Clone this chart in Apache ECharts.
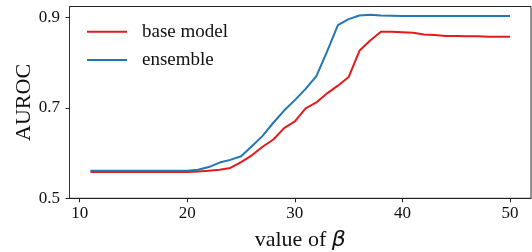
<!DOCTYPE html>
<html>
<head>
<meta charset="utf-8">
<script src="https://cdn.jsdelivr.net/npm/echarts@6/dist/echarts.min.js"></script>
<style>html,body{margin:0;padding:0;background:#fff;}#c{width:532px;height:252px;}</style>
</head>
<body>
<div id="c"></div>
<script>
const beta = [11,12,13,14,15,16,17,18,19,20,21,22,23,24,25,26,27,28,29,30,31,32,33,34,35,36,37,38,39,40,41,42,43,44,45,46,47,48,49,50];
const baseModel = [0.558,0.558,0.558,0.558,0.558,0.558,0.558,0.558,0.558,0.558,0.559,0.561,0.563,0.567,0.580,0.595,0.614,0.630,0.655,0.670,0.699,0.712,0.732,0.749,0.768,0.826,0.849,0.868,0.868,0.867,0.866,0.862,0.861,0.859,0.859,0.858,0.858,0.857,0.857,0.857];
const ensemble = [0.561,0.561,0.561,0.561,0.561,0.561,0.561,0.561,0.561,0.561,0.563,0.569,0.579,0.585,0.593,0.615,0.638,0.667,0.694,0.717,0.742,0.770,0.825,0.883,0.896,0.904,0.906,0.904,0.9035,0.903,0.903,0.903,0.903,0.903,0.903,0.903,0.903,0.903,0.903,0.903];
const xTicks = [10,20,30,40,50];
const yTicks = [0.5,0.7,0.9];
const seriesNames = ['base model','ensemble'];

const serif = 'Liberation Serif';
const chart = echarts.init(document.getElementById('c'), null, {renderer:'canvas'});
chart.setOption({
  animation: false,
  grid: {left: 69.5, right: 1, top: 6.5, bottom: 53.7, show: true, borderColor: '#222', borderWidth: 1, backgroundColor: 'transparent', outerBoundsMode: 'none'},
  legend: {
    data: seriesNames, orient: 'vertical', left: 87, top: 20.7, padding: 0,
    icon: 'rect', itemWidth: 40, itemHeight: 2, itemGap: 6.3,
    textStyle: {fontFamily: serif, fontSize: 19, color: '#111', lineHeight: 22, padding: [0,0,0,10]}
  },
  xAxis: {
    type: 'value', min: 9.05, max: 51.95,
    name: '{a|value of }{b|β}', nameLocation: 'middle', nameGap: 31,
    nameTextStyle: {rich: {a: {fontFamily: serif, fontSize: 22, color: '#111'}, b: {fontFamily: 'DejaVu Sans', fontStyle: 'italic', fontSize: 22, color: '#111'}}},
    axisLine: {show: true, onZero: false, lineStyle: {color: '#222', width: 1}},
    axisTick: {show: true, length: 4, inside: false, customValues: xTicks, lineStyle: {color: '#222'}},
    axisLabel: {customValues: xTicks, fontFamily: serif, fontSize: 17, color: '#111', margin: 6.5},
    splitLine: {show: false}
  },
  yAxis: {
    type: 'value', min: 0.5, max: 0.924,
    name: 'AUROC', nameLocation: 'middle', nameGap: 34.5, nameRotate: 90, nameMoveOverlap: false,
    nameTextStyle: {fontFamily: serif, fontSize: 22, color: '#111'},
    axisLine: {show: true, onZero: false, lineStyle: {color: '#333', width: 1}},
    axisTick: {show: true, length: 4, inside: false, customValues: yTicks, lineStyle: {color: '#222'}},
    axisLabel: {customValues: yTicks, fontFamily: serif, fontSize: 17, color: '#111', margin: 9.5, formatter: v => v.toFixed(1)},
    splitLine: {show: false}
  },
  series: [
    {name: seriesNames[0], type: 'line', data: beta.map((b,i)=>[b, baseModel[i]]), showSymbol: false, lineStyle: {color: '#e41a1c', width: 2}, itemStyle: {color: '#e41a1c'}},
    {name: seriesNames[1], type: 'line', data: beta.map((b,i)=>[b, ensemble[i]]), showSymbol: false, lineStyle: {color: '#1f77b4', width: 2}, itemStyle: {color: '#1f77b4'}}
  ]
});
</script>
</body>
</html>
